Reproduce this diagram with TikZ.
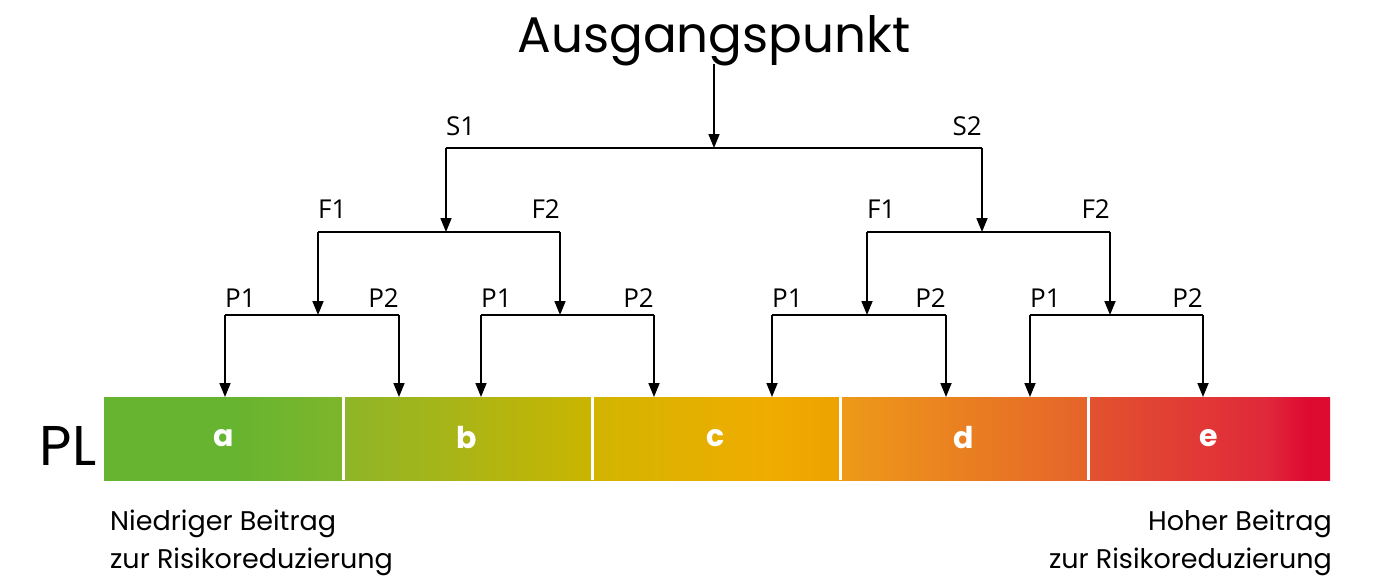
\documentclass[tikz,border=0pt]{standalone}
\usepackage{fontspec}
\setmainfont{Poppins}
\newfontfamily\lblfont{Open Sans}
\usetikzlibrary{arrows.meta}

% segment colours of the performance-level scale
\definecolor{aL}{HTML}{66B42F}
\definecolor{aR}{HTML}{7EB62C}
\definecolor{bL}{HTML}{8EB529}
\definecolor{bR}{HTML}{CAB500}
\definecolor{cL}{HTML}{D2B500}
\definecolor{cM}{HTML}{F0AC00}
\definecolor{cR}{HTML}{EEA200}
\definecolor{dL}{HTML}{EE9A18}
\definecolor{dR}{HTML}{E5642A}
\definecolor{eL}{HTML}{E2532E}
\definecolor{eM}{HTML}{E0283A}
\definecolor{eR}{HTML}{DE0B31}

\pgfdeclarehorizontalshading{shA}{100bp}{color(0bp)=(aL); color(52bp)=(aL); color(75bp)=(aR); color(100bp)=(aR)}
\pgfdeclarehorizontalshading{shB}{100bp}{color(0bp)=(bL); color(25bp)=(bL); color(75bp)=(bR); color(100bp)=(bR)}
\pgfdeclarehorizontalshading{shC}{100bp}{color(0bp)=(cL); color(25bp)=(cL); color(60bp)=(cM); color(75bp)=(cR); color(100bp)=(cR)}
\pgfdeclarehorizontalshading{shD}{100bp}{color(0bp)=(dL); color(25bp)=(dL); color(75bp)=(dR); color(100bp)=(dR)}
\pgfdeclarehorizontalshading{shE}{100bp}{color(0bp)=(eL); color(25bp)=(eL); color(62bp)=(eM); color(70bp)=(eR); color(100bp)=(eR)}

\tikzset{
  conn/.style={line width=1.7pt, black},
  arr/.style={conn, -{Triangle[length=14pt,width=11pt]}},
  brlabel/.style={font=\lblfont\fontsize{26}{26}\selectfont, inner sep=0pt},
  seglabel/.style={font=\bfseries\fontsize{30}{30}\selectfont, text=white, inner sep=0pt},
  note/.style={font=\fontsize{27}{38}\selectfont, inner sep=0pt},
}

\begin{document}
\begin{tikzpicture}[x=1pt,y=-1pt]
\useasboundingbox (0,0) rectangle (1381,576);

% title
\node[font=\fontsize{50}{50}\selectfont, inner sep=0pt, anchor=base] (start) at (714,52) {Ausgangspunkt};

% scale segments
\shade[shading=shA] (104,397) rectangle (343,480);
\shade[shading=shB] (343,397) rectangle (592,480);
\shade[shading=shC] (592,397) rectangle (840,480);
\shade[shading=shD] (840,397) rectangle (1088,480);
\shade[shading=shE] (1088,397) rectangle (1330,480);
\foreach \x in {343.5,592.5,840.5,1088.5}
  \draw[white, line width=2.6pt] (\x,397) -- (\x,480);

\node[seglabel] (a) at (224,438) {a};
\node[seglabel] (b) at (467,438) {b};
\node[seglabel] (c) at (716,438) {c};
\node[seglabel] (d) at (964,438) {d};
\node[seglabel] (e) at (1209,438) {e};

\node[font=\fontsize{56}{56}\selectfont, inner sep=0pt] (pl) at (68,446) {PL};

% branch points
\coordinate (s) at (714,148);
\coordinate (s1) at (446,148);
\coordinate (s2) at (982,148);
\coordinate (f) at (446,232);
\coordinate (fL1) at (318,232);
\coordinate (fL2) at (560,232);
\coordinate (g) at (982,232);
\coordinate (fR1) at (867,232);
\coordinate (fR2) at (1110,232);
\foreach \n/\x/\l/\r in {p1/318/225/399, p2/560/481/654, p3/867/772/946, p4/1110/1030/1203}{
  \coordinate (\n) at (\x,315);
  \coordinate (\n l) at (\l,315);
  \coordinate (\n r) at (\r,315);
  \coordinate (\n lt) at (\l,397);
  \coordinate (\n rt) at (\r,397);
}

% connectors
\draw[arr] (start.south |- 0,64) -- (s);
\draw[conn] (s1) -- (s2);
\draw[arr] (s1) -- (f);
\draw[arr] (s2) -- (g);
\draw[conn] (fL1) -- (fL2);
\draw[conn] (fR1) -- (fR2);
\draw[arr] (fL1) -- (p1);
\draw[arr] (fL2) -- (p2);
\draw[arr] (fR1) -- (p3);
\draw[arr] (fR2) -- (p4);
\foreach \n in {p1,p2,p3,p4}{
  \draw[conn] (\n l) -- (\n r);
  \draw[arr] (\n l) -- (\n lt);
  \draw[arr] (\n r) -- (\n rt);
}

% branch labels
\node[brlabel, anchor=south west] at ([yshift=12pt]s1) {S1};
\node[brlabel, anchor=south east] at ([yshift=12pt]s2) {S2};
\node[brlabel, anchor=south west] at ([yshift=13pt]fL1) {F1};
\node[brlabel, anchor=south east] at ([yshift=13pt]fL2) {F2};
\node[brlabel, anchor=south west] at ([yshift=13pt]fR1) {F1};
\node[brlabel, anchor=south east] at ([yshift=13pt]fR2) {F2};
\foreach \n in {p1,p2,p3,p4}{
  \node[brlabel, anchor=south west] at ([yshift=7pt]\n l) {P1};
  \node[brlabel, anchor=south east] at ([yshift=7pt]\n r) {P2};
}

% notes below the scale
\node[note, anchor=north west, align=left] (low) at (110,510) {Niedriger Beitrag\\zur Risikoreduzierung};
\node[note, anchor=north east, align=right] (high) at (1332,510) {Hoher Beitrag\\zur Risikoreduzierung};
\end{tikzpicture}
\end{document}
